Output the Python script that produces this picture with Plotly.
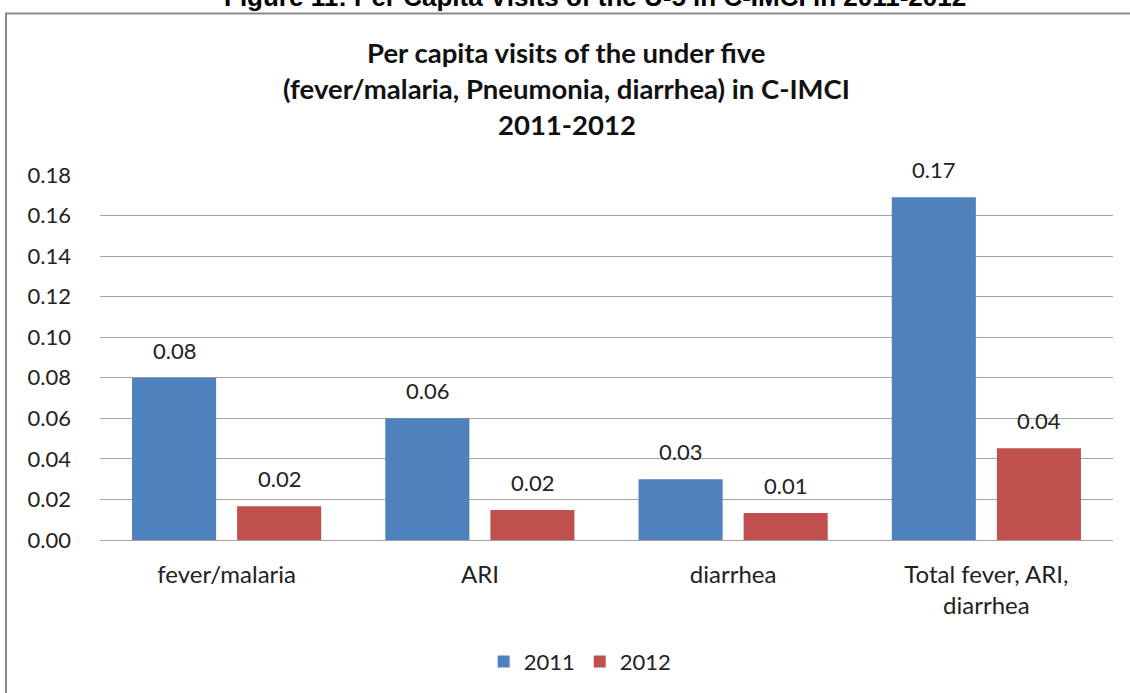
import plotly.graph_objects as go

categories = ["fever/malaria", "ARI", "diarrhea", "Total fever, ARI,<br>diarrhea"]
values_2011 = [0.080, 0.060, 0.030, 0.169]
values_2012 = [0.0167, 0.0148, 0.0133, 0.0452]
labels_2011 = ["0.08", "0.06", "0.03", "0.17"]
labels_2012 = ["0.02", "0.02", "0.01", "0.04"]
series_names = ["2011", "2012"]
tick_vals = [0, 0.02, 0.04, 0.06, 0.08, 0.10, 0.12, 0.14, 0.16, 0.18]
tick_text = ["0.00", "0.02", "0.04", "0.06", "0.08", "0.10", "0.12", "0.14", "0.16", "0.18"]

BLUE = "#4F81BD"
RED = "#C0504D"
FONT = "Lato, Open Sans, sans-serif"

fig = go.Figure()
fig.add_trace(go.Bar(x=categories, y=values_2011, name=series_names[0],
                     marker=dict(color=BLUE, line=dict(width=0))))
fig.add_trace(go.Bar(x=categories, y=values_2012, name=series_names[1],
                     marker=dict(color=RED, line=dict(width=0))))

annotations = []
for cat, v, t in zip(categories, values_2011, labels_2011):
    annotations.append(dict(x=cat, y=v, xref="x", yref="y", text=t, showarrow=False,
                            xshift=-52.5, yshift=12, yanchor="bottom",
                            font=dict(family=FONT, size=22, color="#222")))
for cat, v, t in zip(categories, values_2012, labels_2012):
    annotations.append(dict(x=cat, y=v, xref="x", yref="y", text=t, showarrow=False,
                            xshift=52.5, yshift=12, yanchor="bottom",
                            font=dict(family=FONT, size=22, color="#222")))

title_lines = ["Per capita visits of the under five",
               "(fever/malaria, Pneumonia, diarrhea) in C-IMCI",
               "2011-2012"]
title_y_px = [52, 88, 124]
for line, ypx in zip(title_lines, title_y_px):
    annotations.append(dict(x=0.461, y=(541 - ypx) / 366, xref="paper", yref="paper",
                            text="<b>" + line + "</b>", showarrow=False,
                            xanchor="center", yanchor="middle",
                            font=dict(family=FONT, size=27.5, color="#111")))

annotations.append(dict(x=(595 - 100) / 1013, y=(541 + 3) / 366, xref="paper", yref="paper",
                        text="<b>Figure 11: Per Capita Visits of the U-5 in C-IMCI in 2011-2012</b>",
                        showarrow=False, xanchor="center", yanchor="middle",
                        font=dict(family="Liberation Sans Narrow, Liberation Sans, Arial", size=26, color="#000")))

fig.update_layout(
    width=1130, height=693,
    margin=dict(l=100, r=17, t=175, b=152),
    paper_bgcolor="white", plot_bgcolor="white",
    barmode="group", bargap=0.17, bargroupgap=0.2,
    showlegend=True,
    legend=dict(orientation="h", x=0.474, y=-0.33, xanchor="center", yanchor="middle",
                font=dict(family=FONT, size=22, color="#222"), itemwidth=30),
    annotations=annotations,
    shapes=[dict(type="rect", xref="paper", yref="paper",
                 x0=(6 - 100) / 1013, x1=1.2, y0=-0.6, y1=(541 - 13) / 366,
                 line=dict(color="#8a8a8a", width=2), fillcolor="rgba(0,0,0,0)", layer="below")],
)
fig.update_xaxes(showgrid=False, showline=False, ticks="", ticklabelstandoff=18,
                 tickfont=dict(family=FONT, size=24, color="#222"))
fig.update_yaxes(range=[0, 0.18], tickvals=tick_vals, ticktext=tick_text,
                 showgrid=True, gridcolor="#a6a6a6", gridwidth=1,
                 zeroline=True, zerolinecolor="#a6a6a6", zerolinewidth=1,
                 showline=False, ticks="", ticklabelstandoff=28,
                 tickfont=dict(family=FONT, size=22, color="#222"))

fig.write_html("out.html")
